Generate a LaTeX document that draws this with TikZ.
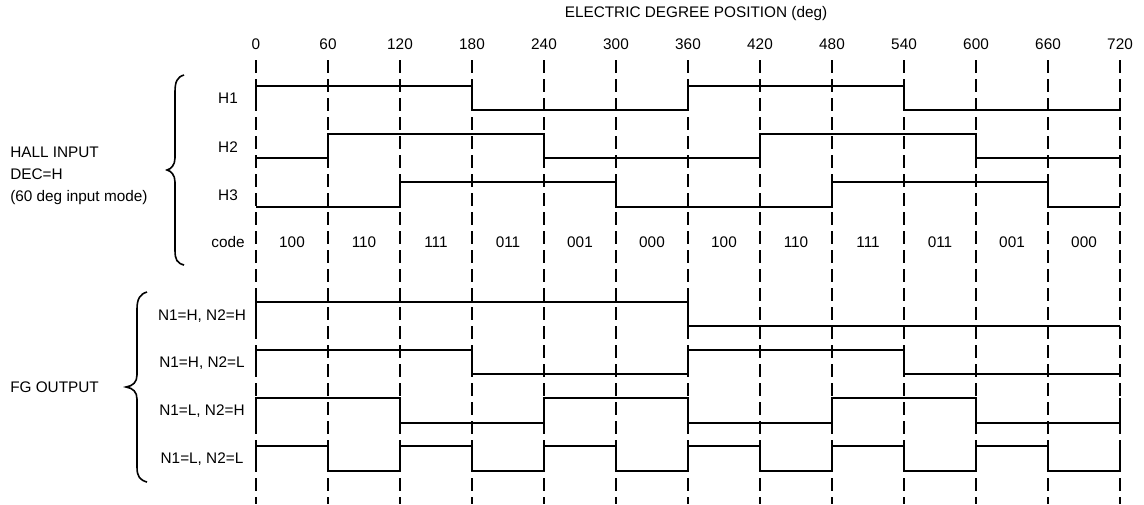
\documentclass[tikz,border=0pt]{standalone}
\usepackage{fontspec}
\setmainfont{Liberation Sans}
\begin{document}
\begin{tikzpicture}[x=0.75pt,y=-0.75pt,
  font=\fontsize{11.5}{13.8}\selectfont,
  lbl/.style={inner sep=0pt, text height=8.3pt, text depth=0pt},
  gridline/.style={line width=1.1pt, dash pattern=on 9.75pt off 4.5pt},
  sig/.style={line width=1.3pt, line join=miter},
  brace/.style={line width=1.2pt}]
\useasboundingbox (0,0) rectangle (1144,504);

% title
\node[lbl] (title) at (696,12) {ELECTRIC DEGREE POSITION (deg)};

% grid and degree numbers
\foreach \i in {0,...,12} {
  \pgfmathtruncatemacro{\deg}{60*\i}
  \coordinate (t\i) at ({256+72*\i},60);
  \coordinate (b\i) at ({256+72*\i},504);
  \draw[gridline] (t\i) -- (b\i);
  \node[lbl] (n\i) at ({256+72*\i},44) {\deg};
}

% signal labels
\node[lbl] (lh1) at (228,98) {H1};
\node[lbl] (lh2) at (228,147) {H2};
\node[lbl] (lh3) at (228,195) {H3};
\node[lbl] (lcode) at (228,242) {code};
\node[lbl] (lf1) at (202,315) {N1=H, N2=H};
\node[lbl] (lf2) at (202,362) {N1=H, N2=L};
\node[lbl] (lf3) at (202,410) {N1=L, N2=H};
\node[lbl] (lf4) at (202,458) {N1=L, N2=L};

% group labels
\node[lbl,anchor=west] (hall1) at (10,152) {HALL INPUT};
\node[lbl,anchor=west] (hall2) at (10,174) {DEC=H};
\node[lbl,anchor=west] (hall3) at (10,196) {(60 deg input mode)};
\node[lbl,anchor=west] (fg) at (10,387) {FG OUTPUT};

% codes
\foreach \c [count=\k from 0] in {100,110,111,011,001,000,100,110,111,011,001,000} {
  \node[lbl] (c\k) at ({292+72*\k},242) {\c};
}

% braces
\draw[brace] (184,75) .. controls (177,77) and (175,82) .. (175,92) -- (175,158)
  .. controls (175,165) and (171,169) .. (167,170)
  .. controls (171,171) and (175,175) .. (175,182) -- (175,250)
  .. controls (175,260) and (177,263) .. (184,265);
\draw[brace] (147,292) .. controls (140,294) and (137,299) .. (137,309) -- (137,375)
  .. controls (137,382) and (133,386) .. (126,387)
  .. controls (133,388) and (137,392) .. (137,399) -- (137,467)
  .. controls (137,477) and (140,480) .. (147,482);

% Hall signals
\draw[sig] (256,110) -- (256,86) -- (472,86) -- (472,110) -- (688,110) -- (688,86) -- (904,86) -- (904,110) -- (1120,110);
\draw[sig] (256,158) -- (328,158) -- (328,134) -- (544,134) -- (544,158) -- (760,158) -- (760,134) -- (976,134) -- (976,158) -- (1120,158);
\draw[sig] (256,207) -- (400,207) -- (400,182) -- (616,182) -- (616,207) -- (832,207) -- (832,182) -- (1048,182) -- (1048,207) -- (1120,207);

% FG signals
\draw[sig] (256,326) -- (256,302) -- (688,302) -- (688,326) -- (1120,326);
\draw[sig] (256,374) -- (256,350) -- (472,350) -- (472,374) -- (688,374) -- (688,350) -- (904,350) -- (904,374) -- (1120,374);
\draw[sig] (256,423) -- (256,398) -- (400,398) -- (400,423) -- (544,423) -- (544,398) -- (688,398) -- (688,423) -- (832,423) -- (832,398) -- (976,398) -- (976,423) -- (1120,423) -- (1120,398);
\draw[sig] (256,471) -- (256,446) -- (328,446) -- (328,471) -- (400,471) -- (400,446) -- (472,446) -- (472,471) -- (544,471) -- (544,446) -- (616,446) -- (616,471) -- (688,471) -- (688,446) -- (760,446) -- (760,471) -- (832,471) -- (832,446) -- (904,446) -- (904,471) -- (976,471) -- (976,446) -- (1048,446) -- (1048,471) -- (1120,471) -- (1120,446);
\end{tikzpicture}
\end{document}
